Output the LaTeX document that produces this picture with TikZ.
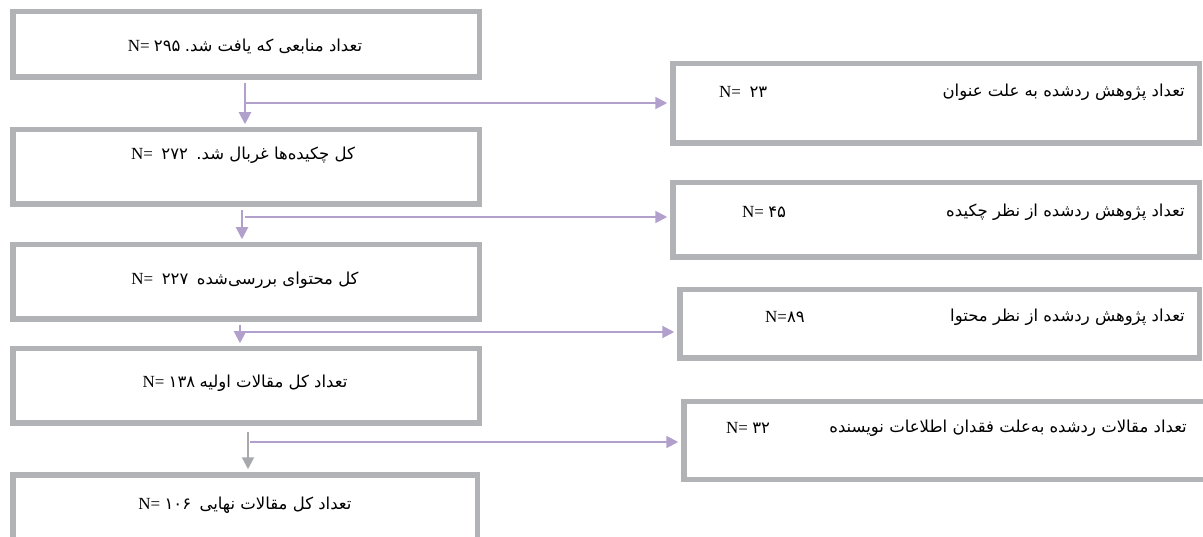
\documentclass[tikz,border=0pt]{standalone}
\usepackage{fontspec}
\setmainfont{Liberation Serif}
\newfontfamily\arfont[Script=Arabic]{DejaVu Sans}
\TeXXeTstate=1
\usetikzlibrary{arrows.meta,fit}
\definecolor{boxgray}{RGB}{177,179,182}
\definecolor{lav}{RGB}{177,160,204}
\definecolor{arrgray}{RGB}{167,169,172}
\newcommand\ar[1]{{\arfont\fontsize{16.5}{19}\selectfont #1}}
\newcommand\rtl[1]{{\arfont\fontsize{16.5}{19}\selectfont\beginR #1\endR}}
\begin{document}
\begin{tikzpicture}[x=1pt,y=-1pt,
  gbox/.style={draw=boxgray, line width=5.5pt, inner sep=0pt, fill=white},
  flow/.style={draw=lav, line width=2pt, -{Triangle[length=12pt,width=12pt]}, shorten >=2.75pt},
  grayflow/.style={draw=arrgray, line width=2pt, -{Triangle[length=12pt,width=12pt]}, shorten >=2.75pt},
  txt/.style={inner sep=0pt, font=\fontsize{17}{20}\selectfont}]
\useasboundingbox (0,0) rectangle (1203,537);
\clip (0,0) rectangle (1203,537);
% left boxes
\node[gbox, fit={(12.75,11.75)(479.25,77.25)}] (b1) {};
\node[gbox, fit={(12.75,129.75)(479.25,204.25)}] (b2) {};
\node[gbox, fit={(12.75,244.75)(479.25,319.25)}] (b3) {};
\node[gbox, fit={(12.75,348.75)(479.25,423.25)}] (b4) {};
\node[gbox, fit={(12.75,474.75)(477.25,560)}] (b5) {};
% right boxes
\node[gbox, fit={(672.75,63.75)(1199.25,143.25)}] (r1) {};
\node[gbox, fit={(672.75,182.75)(1199.25,257.25)}] (r2) {};
\node[gbox, fit={(679.75,289.75)(1199.25,358.25)}] (r3) {};
\node[gbox, fit={(683.75,401.75)(1230,479.25)}] (r4) {};
% texts in left boxes
\node[txt] (t1) at (245,46) {N= \ar{۲۹۵} \rtl{تعداد منابعی که یافت شد.}};
\node[txt] (t2) at (243,155) {N=\ \ \ar{۲۷۲}\ \ \rtl{کل چکیده‌ها غربال شد.}};
\node[txt] (t3) at (245,280) {N=\ \ \ar{۲۲۷}\ \ \rtl{کل محتوای بررسی‌شده}};
\node[txt] (t4) at (245,383) {N= \ar{۱۳۸} \rtl{تعداد کل مقالات اولیه}};
\node[txt] (t5) at (245,505) {N= \ar{۱۰۶}\ \ \rtl{تعداد کل مقالات نهایی}};
% texts in right boxes
\node[txt, anchor=west] (n1) at (719,92) {N=\ \ \ar{۲۳}};
\node[txt, anchor=east] (a1) at (1185,92) {\rtl{تعداد پژوهش ردشده به علت عنوان}};
\node[txt, anchor=west] (n2) at (742,212) {N= \ar{۴۵}};
\node[txt, anchor=east] (a2) at (1185,212) {\rtl{تعداد پژوهش ردشده از نظر چکیده}};
\node[txt, anchor=west] (n3) at (765,317) {N=\ar{۸۹}};
\node[txt, anchor=east] (a3) at (1185,317) {\rtl{تعداد پژوهش ردشده از نظر محتوا}};
\node[txt, anchor=west] (n4) at (726,428) {N= \ar{۳۲}};
\node[txt, anchor=east] (a4) at (1187,428) {\rtl{تعداد مقالات ردشده به‌علت فقدان اطلاعات نویسنده}};
% junction coordinates
\coordinate (v1) at (245,0);
\coordinate (v2) at (242,0);
\coordinate (v3) at (240,0);
\coordinate (v4s) at (248,432);
\coordinate (j1) at (245,103);
\coordinate (j2) at (245,217);
\coordinate (j3) at (245,332);
\coordinate (j4) at (250,442);
% vertical connectors
\draw[flow, shorten <=2.75pt] (b1.south -| v1) -- (b2.north -| v1);
\draw[flow, shorten <=2.75pt] (b2.south -| v2) -- (b3.north -| v2);
\draw[flow, shorten <=2.75pt] (b3.south -| v3) -- (b4.north -| v3);
\draw[grayflow] (v4s) -- (b5.north -| v4s);
% branches
\draw[flow] (j1) -- (j1 -| r1.west);
\draw[flow] (j2) -- (j2 -| r2.west);
\draw[flow] (j3) -- (j3 -| r3.west);
\draw[flow] (j4) -- (j4 -| r4.west);
\end{tikzpicture}
\end{document}
